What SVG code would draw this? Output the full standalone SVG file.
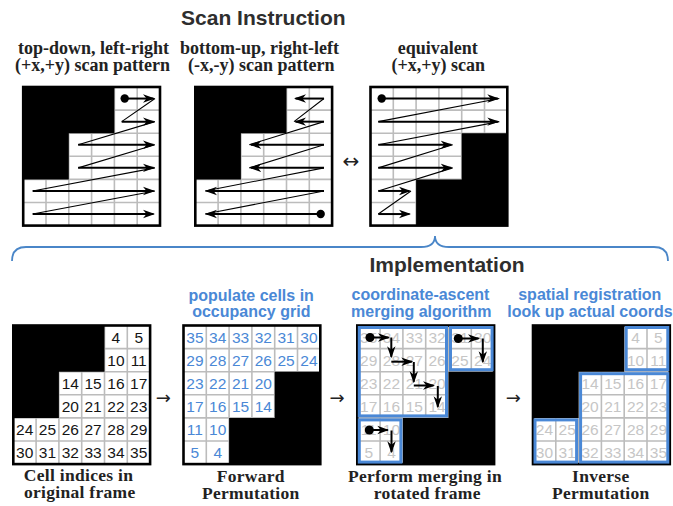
<svg xmlns="http://www.w3.org/2000/svg" xmlns:xlink="http://www.w3.org/1999/xlink" width="673" height="506" viewBox="0 0 673 506">
  <style>
    .title { font-family: "Liberation Sans", Arial, sans-serif; font-weight: bold; font-size: 21px; fill: #2e2e2e; text-anchor: middle; }
    .sub { font-family: "Liberation Serif", "Times New Roman", serif; font-weight: bold; font-size: 18px; fill: #222; text-anchor: middle; }
    .cap { font-family: "Liberation Serif", "Times New Roman", serif; font-weight: bold; font-size: 17.5px; letter-spacing: 0.3px; fill: #222; text-anchor: middle; }
    .blue { font-family: "Liberation Sans", Arial, sans-serif; font-weight: bold; font-size: 16px; fill: #4a88d6; text-anchor: middle; }
    .num { font-family: "Liberation Sans", Arial, sans-serif; font-size: 15.5px; text-anchor: middle; }
    .n-black { fill: #151515; }
    .n-blue { fill: #4a88d6; }
    .n-grey { fill: #c6c6c6; }
    .cell-bg { fill: #fff; }
    .grid { fill: none; stroke: #bcbcbc; stroke-width: 1.6; }
    .frame { fill: none; stroke: #000; stroke-width: 2.6; }
    .solid { fill: #000; }
    .shaft { fill: none; stroke: #000; stroke-width: 2; marker-end: url(#head); }
    .zig { fill: none; stroke: #000; stroke-width: 1.1; }
    .region { fill: none; stroke: #4a88d6; stroke-width: 3; }
    .sym { font-family: "DejaVu Sans", sans-serif; font-size: 18px; fill: #222; text-anchor: middle; }
    .brace { fill: none; stroke: #4a86c8; stroke-width: 1.8; }
  </style>
  <defs>
    <marker id="head" viewBox="0 0 12 10" markerUnits="userSpaceOnUse" markerWidth="12" markerHeight="10" refX="10.5" refY="5" orient="auto">
      <path d="M0,0.8 L12,5 L0,9.2 L3.5,5 Z" fill="#000"/>
    </marker>
    <!-- 6x6 cell board pieces, local coordinates -->
    <rect id="board" class="cell-bg" width="136.8" height="138.6"/>
    <path id="gridlines" class="grid" d="M22.8,0V138.6 M45.6,0V138.6 M68.4,0V138.6 M91.2,0V138.6 M114,0V138.6 M0,23.1H136.8 M0,46.2H136.8 M0,69.3H136.8 M0,92.4H136.8 M0,115.5H136.8"/>
    <path id="blockTL" class="solid" d="M0,0H91.2V46.2H45.6V92.4H0Z"/>
    <path id="blockBR" class="solid" d="M136.8,46.2V138.6H45.6V92.4H91.2V46.2Z"/>
    <rect id="border" class="frame" width="136.8" height="138.6"/>
  </defs>

  <!-- headings -->
  <text class="title" x="263.3" y="25">Scan Instruction</text>
  <text class="sub" y="54"><tspan x="93.5">top-down, left-right</tspan><tspan x="92.5" dy="17">(+x,+y) scan pattern</tspan></text>
  <text class="sub" y="54"><tspan x="259.5">bottom-up, right-left</tspan><tspan x="261.3" dy="17">(-x,-y) scan pattern</tspan></text>
  <text class="sub" y="54"><tspan x="437.8">equivalent</tspan><tspan x="438.3" dy="17">(+x,+y) scan</tspan></text>
  <text class="title" x="447" y="272">Implementation</text>

  <!-- top-down scan -->
  <g id="scan-forward" transform="translate(23.2,87)">
    <use xlink:href="#board"/>
    <use xlink:href="#gridlines"/>
    <use xlink:href="#blockTL"/>
    <use xlink:href="#border"/>
    <circle cx="101.5" cy="11.55" r="4.2"/>
    <path class="shaft" d="M101.5,11.55H130.3"/>
    <path class="shaft" d="M98.5,34.65H130.3"/>
    <path class="shaft" d="M55,57.75H130.3"/>
    <path class="shaft" d="M55,80.85H130.3"/>
    <path class="shaft" d="M9.5,103.95H130.3"/>
    <path class="shaft" d="M9.5,127.05H130.3"/>
    <path class="zig" d="M131.8,11.55L98.5,34.65 M131.8,34.65L55,57.75 M131.8,57.75L55,80.85 M131.8,80.85L9.5,103.95 M131.8,103.95L9.5,127.05"/>
  </g>

  <!-- bottom-up scan -->
  <g id="scan-reverse" transform="translate(195.3,87)">
    <use xlink:href="#board"/>
    <use xlink:href="#gridlines"/>
    <use xlink:href="#blockTL"/>
    <use xlink:href="#border"/>
    <circle cx="125.4" cy="127.05" r="4.2"/>
    <path class="shaft" d="M125.4,127.05H11.2"/>
    <path class="shaft" d="M128.7,103.95H11.2"/>
    <path class="shaft" d="M128.7,80.85H55.5"/>
    <path class="shaft" d="M128.7,57.75H55.5"/>
    <path class="shaft" d="M128.7,34.65H100.2"/>
    <path class="shaft" d="M128.7,11.55H100.2"/>
    <path class="zig" d="M9.7,127.05L128.7,103.95 M9.7,103.95L128.7,80.85 M54,80.85L128.7,57.75 M54,57.75L128.7,34.65 M98.7,34.65L128.7,11.55"/>
  </g>

  <!-- equivalent scan -->
  <g id="scan-equivalent" transform="translate(370.5,87)">
    <use xlink:href="#board"/>
    <use xlink:href="#gridlines"/>
    <use xlink:href="#blockBR"/>
    <use xlink:href="#border"/>
    <circle cx="11.2" cy="11.55" r="4.2"/>
    <path class="shaft" d="M11.2,11.55H127.3"/>
    <path class="shaft" d="M7.8,34.65H127.3"/>
    <path class="shaft" d="M7.8,57.75H80.7"/>
    <path class="shaft" d="M7.8,80.85H80.7"/>
    <path class="shaft" d="M7.8,103.95H39"/>
    <path class="shaft" d="M7.8,127.05H39"/>
    <path class="zig" d="M128.8,11.55L7.8,34.65 M128.8,34.65L7.8,57.75 M82.2,57.75L7.8,80.85 M82.2,80.85L7.8,103.95 M40.5,103.95L7.8,127.05"/>
  </g>

  <!-- step labels -->
  <text class="blue" y="300.5"><tspan x="251.2">populate cells in</tspan><tspan x="251.3" dy="16.8">occupancy grid</tspan></text>
  <text class="blue" y="299.5"><tspan x="420.5">coordinate-ascent</tspan><tspan x="421.3" dy="17.8">merging algorithm</tspan></text>
  <text class="blue" y="299.5"><tspan x="589.8">spatial registration</tspan><tspan x="590" dy="17.8">look up actual coords</tspan></text>

  <!-- cell indices in original frame -->
  <g id="original-frame" transform="translate(13.3,325.5)">
    <use xlink:href="#board"/>
    <use xlink:href="#gridlines"/>
    <use xlink:href="#blockTL"/>
    <use xlink:href="#border"/>
    <g class="num n-black">
      <text x="102.6" y="17">4</text><text x="125.4" y="17">5</text>
      <text x="102.6" y="40.1">10</text><text x="125.4" y="40.1">11</text>
      <text x="57" y="63.2">14</text><text x="79.8" y="63.2">15</text><text x="102.6" y="63.2">16</text><text x="125.4" y="63.2">17</text>
      <text x="57" y="86.3">20</text><text x="79.8" y="86.3">21</text><text x="102.6" y="86.3">22</text><text x="125.4" y="86.3">23</text>
      <text x="11.4" y="109.4">24</text><text x="34.2" y="109.4">25</text><text x="57" y="109.4">26</text><text x="79.8" y="109.4">27</text><text x="102.6" y="109.4">28</text><text x="125.4" y="109.4">29</text>
      <text x="11.4" y="132.5">30</text><text x="34.2" y="132.5">31</text><text x="57" y="132.5">32</text><text x="79.8" y="132.5">33</text><text x="102.6" y="132.5">34</text><text x="125.4" y="132.5">35</text>
    </g>
  </g>

  <!-- forward permutation -->
  <g id="forward-permutation" transform="translate(183.5,325.5)">
    <use xlink:href="#board"/>
    <use xlink:href="#gridlines"/>
    <use xlink:href="#blockBR"/>
    <use xlink:href="#border"/>
    <g class="num n-blue">
      <text x="11.4" y="17">35</text><text x="34.2" y="17">34</text><text x="57" y="17">33</text><text x="79.8" y="17">32</text><text x="102.6" y="17">31</text><text x="125.4" y="17">30</text>
      <text x="11.4" y="40.1">29</text><text x="34.2" y="40.1">28</text><text x="57" y="40.1">27</text><text x="79.8" y="40.1">26</text><text x="102.6" y="40.1">25</text><text x="125.4" y="40.1">24</text>
      <text x="11.4" y="63.2">23</text><text x="34.2" y="63.2">22</text><text x="57" y="63.2">21</text><text x="79.8" y="63.2">20</text>
      <text x="11.4" y="86.3">17</text><text x="34.2" y="86.3">16</text><text x="57" y="86.3">15</text><text x="79.8" y="86.3">14</text>
      <text x="11.4" y="109.4">11</text><text x="34.2" y="109.4">10</text>
      <text x="11.4" y="132.5">5</text><text x="34.2" y="132.5">4</text>
    </g>
  </g>

  <!-- merging in rotated frame -->
  <g id="rotated-merge" transform="translate(357.3,325.5)">
    <use xlink:href="#board"/>
    <use xlink:href="#gridlines"/>
    <use xlink:href="#blockBR"/>
    <use xlink:href="#border"/>
    <g class="num n-grey">
      <text x="11.4" y="17">35</text><text x="34.2" y="17">34</text><text x="57" y="17">33</text><text x="79.8" y="17">32</text><text x="102.6" y="17">31</text><text x="125.4" y="17">30</text>
      <text x="11.4" y="40.1">29</text><text x="34.2" y="40.1">28</text><text x="57" y="40.1">27</text><text x="79.8" y="40.1">26</text><text x="102.6" y="40.1">25</text><text x="125.4" y="40.1">24</text>
      <text x="11.4" y="63.2">23</text><text x="34.2" y="63.2">22</text><text x="57" y="63.2">21</text><text x="79.8" y="63.2">20</text>
      <text x="11.4" y="86.3">17</text><text x="34.2" y="86.3">16</text><text x="57" y="86.3">15</text><text x="79.8" y="86.3">14</text>
      <text x="11.4" y="109.4">11</text><text x="34.2" y="109.4">10</text>
      <text x="11.4" y="132.5">5</text><text x="34.2" y="132.5">4</text>
    </g>
    <rect class="region" x="2" y="2" width="87.2" height="88.4"/>
    <rect class="region" x="93.2" y="2" width="41.6" height="42.2"/>
    <rect class="region" x="2" y="94.4" width="41.6" height="42.2"/>
    <!-- staircase ascent in the large block -->
    <circle cx="12.7" cy="12" r="4.5"/>
    <path class="shaft" d="M12.7,12H31.2"/>
    <path class="shaft" d="M34,12V31.3"/>
    <path class="shaft" d="M34,36.2H54.5"/>
    <path class="shaft" d="M56.5,36.5V56.3"/>
    <path class="shaft" d="M56.5,60H76.2"/>
    <path class="shaft" d="M80.5,60.5V81.3"/>
    <!-- top-right block -->
    <circle cx="101" cy="13" r="4.5"/>
    <path class="shaft" d="M101,13H121.2"/>
    <path class="shaft" d="M125.5,13V36.3"/>
    <!-- bottom-left block -->
    <circle cx="12" cy="104.5" r="4.5"/>
    <path class="shaft" d="M12,104.5H30.5"/>
    <path class="shaft" d="M34.2,105V126.3"/>
  </g>

  <!-- inverse permutation -->
  <g id="inverse-permutation" transform="translate(533,325.5)">
    <use xlink:href="#board"/>
    <use xlink:href="#gridlines"/>
    <use xlink:href="#blockTL"/>
    <use xlink:href="#border"/>
    <g class="num n-grey">
      <text x="102.6" y="17">4</text><text x="125.4" y="17">5</text>
      <text x="102.6" y="40.1">10</text><text x="125.4" y="40.1">11</text>
      <text x="57" y="63.2">14</text><text x="79.8" y="63.2">15</text><text x="102.6" y="63.2">16</text><text x="125.4" y="63.2">17</text>
      <text x="57" y="86.3">20</text><text x="79.8" y="86.3">21</text><text x="102.6" y="86.3">22</text><text x="125.4" y="86.3">23</text>
      <text x="11.4" y="109.4">24</text><text x="34.2" y="109.4">25</text><text x="57" y="109.4">26</text><text x="79.8" y="109.4">27</text><text x="102.6" y="109.4">28</text><text x="125.4" y="109.4">29</text>
      <text x="11.4" y="132.5">30</text><text x="34.2" y="132.5">31</text><text x="57" y="132.5">32</text><text x="79.8" y="132.5">33</text><text x="102.6" y="132.5">34</text><text x="125.4" y="132.5">35</text>
    </g>
    <rect class="region" x="93.2" y="2" width="41.6" height="42.2"/>
    <rect class="region" x="47.6" y="48.2" width="87.2" height="88.4"/>
    <rect class="region" x="2" y="94.4" width="41.6" height="42.2"/>
  </g>

  <!-- captions -->
  <text class="cap" y="481"><tspan x="78.5">Cell indices in</tspan><tspan x="79.7" dy="17">original frame</tspan></text>
  <text class="cap" y="481.5"><tspan x="250.8">Forward</tspan><tspan x="250.8" dy="17">Permutation</tspan></text>
  <text class="cap" y="481.5"><tspan x="425">Perform merging in</tspan><tspan x="427.2" dy="17">rotated frame</tspan></text>
  <text class="cap" y="481.5"><tspan x="600.8">Inverse</tspan><tspan x="600.8" dy="17">Permutation</tspan></text>

  <!-- connectors -->
  <g id="connectors">
    <text class="sym" x="350.8" y="168" style="font-size:20px">↔</text>
    <path class="brace" d="M12,261 Q12,247 26,247 L421,247 Q435,247 435,236 Q435,247 449,247 L654,247 Q668,247 668,261"/>
    <text class="sym" x="163.3" y="404">→</text>
    <text class="sym" x="337" y="404">→</text>
    <text class="sym" x="513.3" y="404">→</text>
  </g>
</svg>
